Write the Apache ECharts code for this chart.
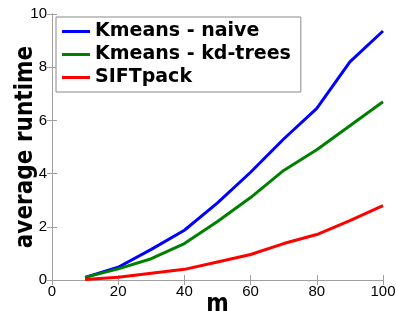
<!DOCTYPE html>
<html>
<head>
<meta charset="utf-8">
<script src="https://cdn.jsdelivr.net/npm/echarts@6/dist/echarts.min.js"></script>
<style>
  html, body { margin: 0; padding: 0; background: #fff; }
  #chart { width: 396px; height: 311px; }
</style>
</head>
<body>
<div id="chart"></div>
<script>
// sizes of m
var mValues = [10, 20, 30, 40, 50, 60, 70, 80, 90, 100];
// average runtime per method
var naive = [0.1, 0.48, 1.15, 1.87, 2.9, 4.05, 5.3, 6.45, 8.2, 9.36];
var kdTrees = [0.1, 0.42, 0.8, 1.37, 2.2, 3.1, 4.12, 4.9, 5.8, 6.7];
var siftPack = [0.02, 0.1, 0.25, 0.4, 0.68, 0.96, 1.37, 1.71, 2.23, 2.8];

function pairs(ys) {
    return mValues.map(function (m, i) { return [m, ys[i]]; });
}

var axisColor = '#a0a0a0';
var tickFont = { color: '#000', fontSize: 15, fontFamily: 'Liberation Sans' };
var nameFont = { fontSize: 24, fontWeight: 'bold', fontFamily: 'DejaVu Sans Condensed', color: '#000' };

var myChart = echarts.init(document.getElementById('chart'));
myChart.setOption({
    animation: false,
    grid: { left: 52, right: 13, top: 14, bottom: 31, outerBoundsMode: 'none', containLabel: false },
    legend: {
        orient: 'vertical',
        left: 56,
        top: 17,
        padding: [5, 10, 5, 6],
        itemGap: 4,
        itemWidth: 28,
        itemHeight: 3,
        icon: 'rect',
        borderColor: '#888',
        borderWidth: 1,
        backgroundColor: '#fff',
        textStyle: { fontSize: 19, fontWeight: 'bold', fontFamily: 'DejaVu Sans', color: '#000' },
        data: ['Kmeans - naive', 'Kmeans - kd-trees', 'SIFTpack']
    },
    xAxis: [{
        type: 'value',
        min: 0, max: 100, interval: 20,
        name: 'm',
        nameLocation: 'middle',
        nameGap: 13,
        nameMoveOverlap: false,
        nameTextStyle: nameFont,
        axisLine: { lineStyle: { color: axisColor } },
        axisTick: { inside: true, length: 5, lineStyle: { color: axisColor } },
        axisLabel: Object.assign({ margin: 4 }, tickFont),
        splitLine: { show: false }
    }, {
        type: 'value', position: 'top',
        min: 0, max: 100, interval: 20,
        axisLine: { show: true, lineStyle: { color: axisColor } },
        axisTick: { inside: true, length: 5, lineStyle: { color: axisColor } },
        axisLabel: { show: false },
        splitLine: { show: false }
    }],
    yAxis: [{
        type: 'value',
        min: 0, max: 10, interval: 2,
        name: 'average runtime',
        nameLocation: 'middle',
        nameGap: 14,
        nameMoveOverlap: false,
        nameTextStyle: nameFont,
        axisLine: { show: true, lineStyle: { color: axisColor } },
        axisTick: { show: true, inside: true, length: 5, lineStyle: { color: axisColor } },
        axisLabel: Object.assign({ margin: 5 }, tickFont),
        splitLine: { show: false }
    }, {
        type: 'value', position: 'right',
        min: 0, max: 10, interval: 2,
        axisLine: { show: true, lineStyle: { color: axisColor } },
        axisTick: { show: true, inside: true, length: 5, lineStyle: { color: axisColor } },
        axisLabel: { show: false },
        splitLine: { show: false }
    }],
    series: [
        { name: 'Kmeans - naive', type: 'line', data: pairs(naive), showSymbol: false,
          lineStyle: { color: '#0000ff', width: 3 }, itemStyle: { color: '#0000ff' } },
        { name: 'Kmeans - kd-trees', type: 'line', data: pairs(kdTrees), showSymbol: false,
          lineStyle: { color: '#008000', width: 3 }, itemStyle: { color: '#008000' } },
        { name: 'SIFTpack', type: 'line', data: pairs(siftPack), showSymbol: false,
          lineStyle: { color: '#ff0000', width: 3 }, itemStyle: { color: '#ff0000' } }
    ]
});
</script>
</body>
</html>
